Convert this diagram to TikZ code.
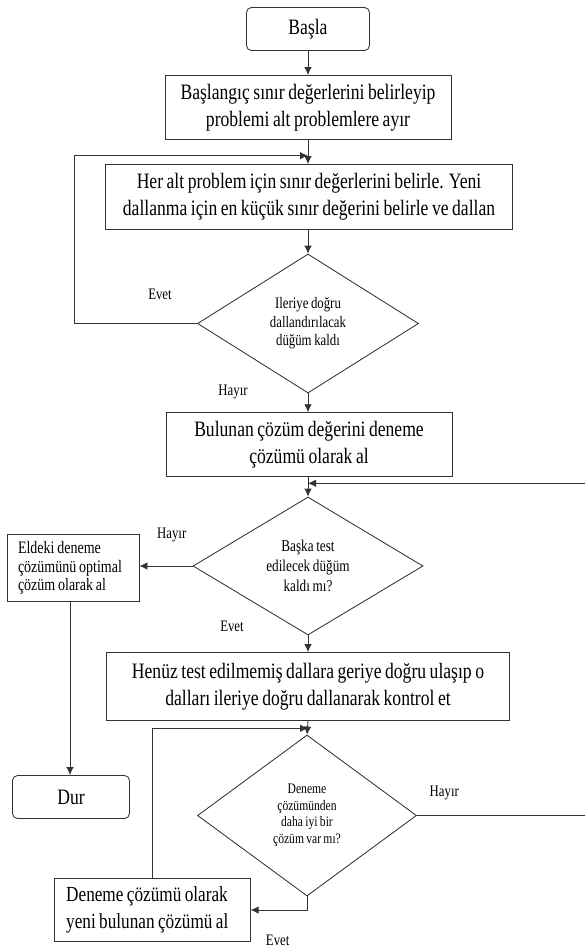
\documentclass[tikz,border=0pt]{standalone}
\usepackage{fontspec}
\setmainfont[FakeStretch=0.80, WordSpace=0.8]{Liberation Serif}
\usetikzlibrary{arrows.meta,positioning,shapes.geometric,calc}

\begin{document}
\begin{tikzpicture}[x=1pt, y=-1pt,
				      every node/.style={align=center, line width=0.3mm, text=black},
				      terminalBox/.style={
						      draw=black!80, rounded corners=5pt,
						      minimum width=123pt, minimum height=43pt,
						      inner sep=0pt, font=\fontsize{22}{27}\selectfont
					      },
				      processBox/.style={
						      draw=black!80, inner sep=0pt,
						      font=\fontsize{22}{27}\selectfont
					      },
				      sideBox/.style={
						      draw=black!80, inner sep=0pt, align=flush left,
						      font=\fontsize{17.5}{18.7}\selectfont
					      },
				      decisionBox/.style={
						      draw=black!80, shape=diamond, inner sep=0pt
					      },
				      answerLabel/.style={font=\fontsize{16}{18}\selectfont, inner sep=0pt},
				      flowarrow/.style={draw, -{Latex[length=8pt, width=7.5pt]}, line width=0.3mm, black!80}
			      ]
			      \useasboundingbox (0,0) rectangle (585,948);

			      % Main column
			      \node[terminalBox] (basla) at (308,29) {Başla};
			      \node[processBox, minimum width=286pt, minimum height=64pt] (bolme) at (308,107.5)
			      {Başlangıç sınır değerlerini belirleyip\\problemi alt problemlere ayır};
			      \node[processBox, minimum width=407pt, minimum height=65pt] (sinir) at (309,197)
			      {Her alt problem için sınır değerlerini belirle. Yeni\\dallanma için en küçük sınır değerini belirle ve dallan};
			      \node[decisionBox, minimum width=221pt, minimum height=139pt,
				      font=\fontsize{16}{18.5}\selectfont] (ileri) at (308,323.5)
			      {Ileriye doğru\\dallandırılacak\\düğüm kaldı};
			      \node[processBox, minimum width=286pt, minimum height=64pt] (deneme) at (309,444.7)
			      {Bulunan çözüm değerini deneme\\çözümü olarak al};
			      \node[decisionBox, minimum width=230pt, minimum height=138pt,
				      font=\fontsize{16.5}{19.7}\selectfont] (baska) at (308,566)
			      {Başka test\\edilecek düğüm\\kaldı mı?};
			      \node[processBox, minimum width=403pt, minimum height=68pt] (kontrol) at (308,686.5)
			      {Henüz test edilmemiş dallara geriye doğru ulaşıp o\\dalları ileriye doğru dallanarak kontrol et};
			      \node[decisionBox, minimum width=219pt, minimum height=161pt,
				      font=\fontsize{14.5}{16.5}\selectfont] (dahaiyi) at (307,815.5)
			      {Deneme\\çözümünden\\daha iyi bir\\çözüm var mı?};
			      \node[processBox, align=flush left, text width=172pt, minimum width=196pt, minimum height=63pt,
				      font=\fontsize{21.5}{26.7}\selectfont] (yeni) at (152.2,910)
			      {Deneme çözümü olarak\\yeni bulunan çözümü al};

			      % Left side
			      \node[sideBox, minimum width=132pt, minimum height=67pt, text width=110pt] (optimal) at (73,568)
			      {Eldeki deneme\\çözümünü optimal\\çözüm olarak al};
			      \node[terminalBox, minimum width=117pt] (dur) at (71,797) {Dur};

			      % Junctions
			      \coordinate (j1) at (308,155.7);
			      \coordinate (j2) at (308,483.3);
			      \coordinate (j3) at (308,728.3);
			      \coordinate (sol1) at (74,155.7);
			      \coordinate (sag1) at (600,483.3);

			      % Answers
			      \node[answerLabel] (evet1) at (160,294) {Evet};
			      \node[answerLabel] (hayir1) at (233,391.7) {Hayır};
			      \node[answerLabel] (hayir2) at (171.7,535) {Hayır};
			      \node[answerLabel] (evet2) at (232,626.7) {Evet};
			      \node[answerLabel] (hayir3) at (444.3,792.7) {Hayır};
			      \node[answerLabel] (evet3) at (277.7,940) {Evet};

			      \draw[flowarrow] (basla) -- (bolme);
			      \draw[flowarrow] (bolme.south -| j1) -- (sinir.north -| j1);
			      \draw[flowarrow] (sinir.south -| j1) -- (ileri.north);
			      \draw[flowarrow] (ileri.west) -| (sol1) -- (j1);
			      \draw[flowarrow] (ileri.south) -- (deneme.north -| ileri.south);
			      \draw[flowarrow] (deneme.south -| j2) -- (baska.north);
			      \draw[flowarrow] (dahaiyi.east) -| (sag1) -- (j2);
			      \draw[flowarrow] (baska.west) -- (baska.west -| optimal.east);
			      \draw[flowarrow] (optimal.south -| 70,0) -- (dur.north -| 70,0);
			      \draw[flowarrow] (baska.south) -- (kontrol.north -| baska.south);
			      \draw[flowarrow] (kontrol.south -| j3) -- (dahaiyi.north);
			      \draw[flowarrow] (dahaiyi.south) |- (yeni.east);
			      \draw[flowarrow] (yeni.north) |- (j3);
		      \end{tikzpicture}
\end{document}
